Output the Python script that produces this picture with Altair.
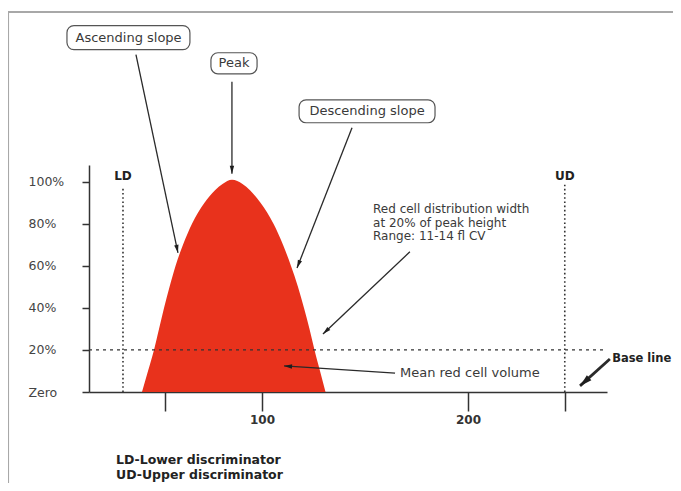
import altair as alt
import pandas as pd
import numpy as np

# ---------------- data ----------------
curve_x = [41.73, 44.65, 47.56, 49.99, 52.42, 55.09, 58.0, 61.64, 66.01, 72.08, 77.18, 80.82,
           85.43, 90.53, 94.17, 99.27, 105.58, 110.19, 114.08, 117.48, 120.39, 123.06, 125.49, 128.16, 130.83]
curve_y = [0, 10, 20, 30, 40, 50, 60, 70, 80, 90, 96, 99,
           101, 99, 96, 90, 80, 70, 60, 50, 40, 30, 20, 10, 0]

y_ticks = [0, 20, 40, 60, 80, 100]
x_ticks = [53, 100, 200, 247]

x_domain = [16, 267.5]
y_domain = [0, 108]

disc_names = ["LD", "UD"]
disc_x = [32.5, 247]
disc_top = [97.6, 98.6]
disc_label_y = 102.9
rdw_level = 20

box_labels = ["Ascending slope", "Peak", "Descending slope"]
box_x1 = [5.3, 75.2, 118.0]
box_x2 = [65.0, 97.6, 184.0]
box_y1 = [162.9, 151.4, 128.1]
box_y2 = [174.3, 161.4, 139.0]
box_tx = [35.2, 86.4, 151.0]
box_ty = [168.6, 156.4, 133.6]

arrow_x1 = [38.8, 85.4, 143.7, 171.8, 164.6, 268.9]
arrow_y1 = [160.5, 147.6, 125.7, 66.7, 9.0, 15.7]
arrow_x2 = [59.2, 85.4, 117.0, 129.6, 110.7, 254.4]
arrow_y2 = [66.2, 103.8, 59.0, 27.6, 12.4, 2.9]
arrow_w = [1.3, 1.3, 1.3, 1.3, 1.3, 2.8]
arrow_head = [64, 64, 64, 64, 64, 150]

rdw_lines = ["Red cell distribution width", "at 20% of peak height", "Range: 11-14 fl CV"]
rdw_x = 153.9
rdw_y = [86.9, 80.5, 74.1]

mcv_text = "Mean red cell volume"
mcv_x, mcv_y = 167.0, 9.0

base_text = "Base line"
base_x, base_y = 270.0, 15.7

foot_lines = ["LD-Lower discriminator", "UD-Upper discriminator"]
foot_x = 29.1
foot_y = [-32.5, -39.6]

frame_x = [-24.3, 303.4, -23.3]
frame_y = [180.8, -47.0]

# ---------------- helpers ----------------
W, H = 518, 227
PX_X = W / (x_domain[1] - x_domain[0])
PX_Y = H / (y_domain[1] - y_domain[0])
FONT = "DejaVu Sans"
TXT = "#3a3a3a"

xs = alt.Scale(domain=x_domain, nice=False, zero=False)
ys = alt.Scale(domain=y_domain, nice=False, zero=False)

x_axis = alt.Axis(
    values=x_ticks, title=None, grid=False,
    labelExpr="datum.value == 100 || datum.value == 200 ? datum.label : ''",
    tickSize=19, tickWidth=1.5, tickColor="#333",
    domainColor="#333", domainWidth=1.5,
    labelPadding=3, labelFont=FONT, labelFontSize=12, labelFontWeight="bold",
    labelColor="#333", labelFlush=False, labelOverlap=False)
y_axis = alt.Axis(
    values=y_ticks, title=None, grid=False,
    labelExpr="datum.value == 0 ? 'Zero' : datum.value + '%'",
    tickSize=7, tickWidth=1.5, tickColor="#333",
    domainColor="#333", domainWidth=1.5,
    labelAlign="left", labelPadding=54, labelFont=FONT, labelFontSize=12.5,
    labelColor="#444", labelFlush=False, labelOverlap=False)


def X(f):
    return alt.X(f, type="quantitative", scale=xs, axis=x_axis)


def Y(f):
    return alt.Y(f, type="quantitative", scale=ys, axis=y_axis)


# ---------------- layers ----------------
curve_df = pd.DataFrame({"x": curve_x, "y": curve_y})
curve = alt.Chart(curve_df).mark_area(
    color="#e8321c", interpolate="monotone", opacity=1
).encode(x=X("x"), y=Y("y"))

disc_df = pd.DataFrame({"x": disc_x, "y": [0, 0], "y2": disc_top, "name": disc_names,
                        "ly": [disc_label_y] * 2})
disc_rules = alt.Chart(disc_df).mark_rule(color="#333", strokeWidth=1.6, strokeDash=[1.6, 2.6]).encode(
    x=X("x"), y=Y("y"), y2="y2")
disc_text = alt.Chart(disc_df).mark_text(font=FONT, fontSize=12, fontWeight="bold", color="#222").encode(
    x=X("x"), y=Y("ly"), text="name")

rdw_df = pd.DataFrame({"x": [x_domain[0]], "x2": [x_domain[1]], "y": [rdw_level]})
rdw_rule = alt.Chart(rdw_df).mark_rule(color="#333", strokeWidth=1.3, strokeDash=[3, 4]).encode(
    x=X("x"), x2="x2", y=Y("y"))

frame_df = pd.DataFrame({
    "x": [frame_x[0], frame_x[2]], "x2": [frame_x[1], frame_x[2]],
    "y": [frame_y[0], frame_y[0]], "y2": [frame_y[0], frame_y[1]]})
frame = alt.Chart(frame_df).mark_rule(color="#a8a8a8", strokeWidth=2).encode(
    x=X("x"), x2="x2", y=Y("y"), y2="y2")

box_df = pd.DataFrame({"x": box_x1, "x2": box_x2, "y": box_y1, "y2": box_y2,
                       "tx": box_tx, "ty": box_ty, "label": box_labels})
boxes = alt.Chart(box_df).mark_rect(fill="white", stroke="#555", strokeWidth=1.2, cornerRadius=7).encode(
    x=X("x"), x2="x2", y=Y("y"), y2="y2")
box_text = alt.Chart(box_df).mark_text(font=FONT, fontSize=13, color=TXT).encode(
    x=X("tx"), y=Y("ty"), text="label")

# arrows
ax1, ay1 = np.array(arrow_x1), np.array(arrow_y1)
ax2, ay2 = np.array(arrow_x2), np.array(arrow_y2)
dxp = (ax2 - ax1) * PX_X
dyp = -(ay2 - ay1) * PX_Y
ln = np.hypot(dxp, dyp)
ux, uy = dxp / ln, dyp / ln
half = np.sqrt(np.array(arrow_head)) / 2.0
ang = (np.degrees(np.arctan2(dxp, -dyp)) + 360) % 360
arrow_df = pd.DataFrame({
    "x": ax1, "y": ay1, "x2": ax2, "y2": ay2, "w": arrow_w,
    "hx": ax2 - ux * half / PX_X, "hy": ay2 + uy * half / PX_Y,
    "ang": ang, "hs": arrow_head})
arrow_lines = alt.Chart(arrow_df).mark_rule(color="#2a2a2a").encode(
    x=X("x"), x2="x2", y=Y("y"), y2="y2",
    strokeWidth=alt.StrokeWidth("w:Q", scale=None))
arrow_heads = alt.Chart(arrow_df).mark_point(
    shape="M0,-1L-0.55,1L0.55,1Z", filled=True, color="#1e1e1e", opacity=1, strokeWidth=0
).encode(
    x=X("hx"), y=Y("hy"),
    angle=alt.Angle("ang:Q", scale=None),
    size=alt.Size("hs:Q", scale=None))

rdw_text_df = pd.DataFrame({"x": [rdw_x] * 3, "y": rdw_y, "t": rdw_lines})
rdw_text = alt.Chart(rdw_text_df).mark_text(font=FONT, fontSize=12, color=TXT, align="left").encode(
    x=X("x"), y=Y("y"), text="t")

mcv_df = pd.DataFrame({"x": [mcv_x], "y": [mcv_y], "t": [mcv_text]})
mcv = alt.Chart(mcv_df).mark_text(font=FONT, fontSize=13, color=TXT, align="left").encode(
    x=X("x"), y=Y("y"), text="t")

base_df = pd.DataFrame({"x": [base_x], "y": [base_y], "t": [base_text]})
base = alt.Chart(base_df).mark_text(font=FONT, fontSize=11.5, fontWeight="bold", color="#222", align="left").encode(
    x=X("x"), y=Y("y"), text="t")

foot_df = pd.DataFrame({"x": [foot_x] * 2, "y": foot_y, "t": foot_lines})
foot = alt.Chart(foot_df).mark_text(font=FONT, fontSize=12.5, fontWeight="bold", color="#222", align="left").encode(
    x=X("x"), y=Y("y"), text="t")

chart = alt.layer(
    curve, frame, rdw_rule, disc_rules, disc_text, arrow_lines, arrow_heads,
    boxes, box_text, rdw_text, mcv, base, foot
).properties(
    width=W, height=H,
    padding={"left": 81, "top": 157, "right": 66, "bottom": 91},
    autosize=alt.AutoSizeParams(type="none"),
    background="white",
).configure_view(stroke=None)

chart.save("out.html", embed_options={"renderer": "svg", "actions": False})
